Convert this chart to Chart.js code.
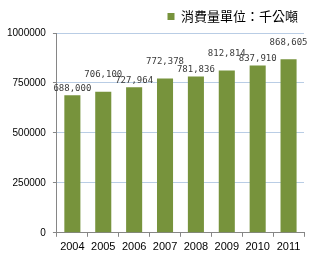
<!DOCTYPE html>
<html lang="zh-Hant">
<head>
    <meta charset="UTF-8">
    <title>消費量</title>
    <script src="https://cdn.jsdelivr.net/npm/chart.js"></script>
    <style>
        body {
            margin: 0;
            background: #fff;
        }
        #chart {
            display: block;
        }
    </style>
</head>
<body>
    <canvas id="chart" width="310" height="254"></canvas>

    <script>
        const years = ['2004', '2005', '2006', '2007', '2008', '2009', '2010', '2011'];
        const consumption = [688000, 706100, 727964, 772378, 781836, 812814, 837910, 868605];
        const seriesName = '消費量單位：千公噸';
        const yTicks = [0, 250000, 500000, 750000, 1000000];

        // value labels, staggered like the original so they don't collide
        const valueLabels = {
            id: 'valueLabels',
            afterDatasetsDraw(chart) {
                const ctx = chart.ctx;
                const meta = chart.getDatasetMeta(0);
                ctx.save();
                ctx.font = '9px "DejaVu Sans Mono"';
                ctx.fillStyle = '#3a3a3a';
                ctx.textAlign = 'center';
                ctx.textBaseline = 'middle';
                meta.data.forEach((bar, i) => {
                    const lift = i % 2 ? 17 : 7;
                    ctx.fillText(consumption[i].toLocaleString('en-US'), bar.x, bar.y - lift);
                });
                ctx.restore();
            }
        };

        new Chart(document.getElementById('chart'), {
            type: 'bar',
            data: {
                labels: years,
                datasets: [{
                    label: seriesName,
                    data: consumption,
                    backgroundColor: '#77933c',
                    barPercentage: 0.52,
                    categoryPercentage: 1
                }]
            },
            options: {
                responsive: false,
                animation: false,
                layout: { padding: { top: 4, left: 0, right: 6, bottom: -4 } },
                plugins: {
                    legend: {
                        position: 'top',
                        align: 'end',
                        labels: {
                            boxWidth: 7,
                            boxHeight: 7,
                            padding: 6,
                            color: '#000',
                            font: { family: '"Noto Sans CJK TC"', size: 13 }
                        }
                    },
                    tooltip: { enabled: false }
                },
                scales: {
                    x: {
                        grid: {
                            drawOnChartArea: false,
                            drawTicks: true,
                            tickLength: 4,
                            color: '#868686'
                        },
                        border: { color: '#868686' },
                        ticks: {
                            color: '#000',
                            padding: 4,
                            maxRotation: 0,
                            minRotation: 0,
                            autoSkip: false,
                            font: { family: '"Liberation Sans"', size: 11 }
                        }
                    },
                    y: {
                        min: 0,
                        max: 1000000,
                        afterBuildTicks(axis) {
                            axis.ticks = yTicks.map(v => ({ value: v }));
                        },
                        grid: {
                            color: '#b9cde5',
                            tickLength: 4,
                            tickColor: '#868686'
                        },
                        border: { color: '#868686' },
                        ticks: {
                            color: '#000',
                            padding: 7,
                            font: { family: '"Liberation Sans"', size: 10 },
                            callback: v => String(v)
                        }
                    }
                }
            },
            plugins: [valueLabels]
        });
    </script>
</body>
</html>
